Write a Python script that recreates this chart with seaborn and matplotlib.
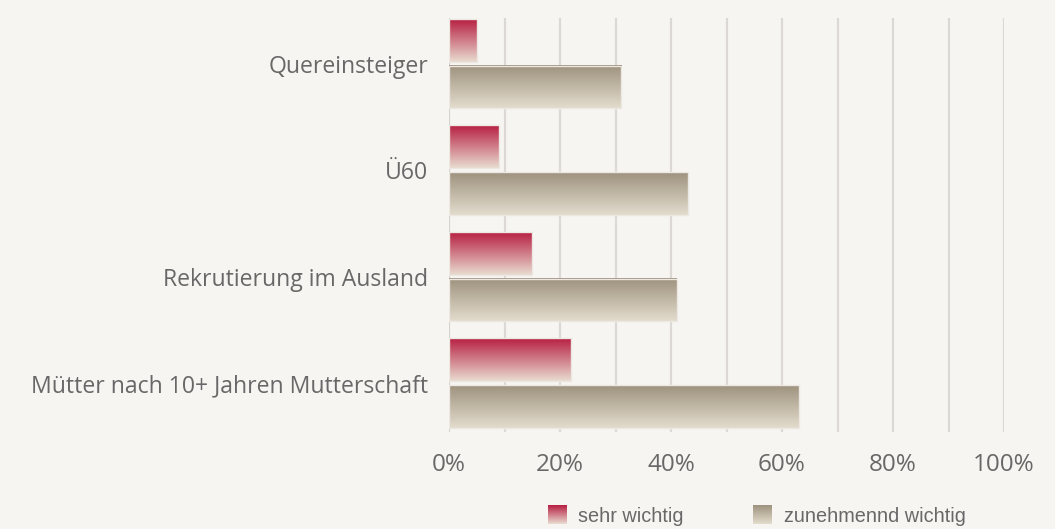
import matplotlib
matplotlib.use("Agg")
import matplotlib.pyplot as plt
import seaborn as sns
import pandas as pd
import numpy as np
from matplotlib.colors import LinearSegmentedColormap

# data (percent)
categories = ["Quereinsteiger", "Ü60", "Rekrutierung im Ausland", "Mütter nach 10+ Jahren Mutterschaft"]
series_names = ["sehr wichtig", "zunehmennd wichtig"]
sehr_wichtig = [5, 9, 15, 22]
zunehmend_wichtig = [31, 43, 41, 63]
x_ticks = [0, 20, 40, 60, 80, 100]
x_tick_labels = ["0%", "20%", "40%", "60%", "80%", "100%"]

df = pd.DataFrame({
    "Kategorie": categories * 2,
    "Gruppe": [series_names[0]] * 4 + [series_names[1]] * 4,
    "Wert": sehr_wichtig + zunehmend_wichtig,
})

bg = "#f7f5f2"
text_col = "#686868"
grads = {
    series_names[0]: ["#b71f42", "#e9dcd0"],
    series_names[1]: ["#9e927e", "#e3dccd"],
}

sns.set_style("white")
plt.rcParams['font.family'] = ['Open Sans', 'DejaVu Sans']

fig = plt.figure(figsize=(10.55, 5.29), dpi=100, facecolor=bg)
ax = fig.add_axes([449 / 1055, 1 - 432 / 529, 555 / 1055, 414 / 529])
ax.set_facecolor(bg)

sns.barplot(data=df, y="Kategorie", x="Wert", hue="Gruppe", orient="h",
            width=0.88, gap=0.09, ax=ax, legend=False,
            palette=[grads[s][0] for s in series_names])

# vertical grid every 10%
for v in range(10, 101, 10):
    ax.axvline(v, color="#dcd9d4", lw=1.6, zorder=0)
ax.axvline(0, color="#d6d3ce", lw=1.6, zorder=0)

# gradient fills for every bar
bars = list(ax.patches)
for i, p in enumerate(bars):
    name = series_names[0] if i < len(categories) else series_names[1]
    cmap = LinearSegmentedColormap.from_list(name, grads[name])
    x0, y0, w, h = p.get_x(), p.get_y(), p.get_width(), p.get_height()
    grad = np.linspace(0, 1, 256).reshape(-1, 1)
    ax.imshow(grad, cmap=cmap, aspect="auto", origin="upper",
              extent=(x0, x0 + w, y0 + h, y0), zorder=2, interpolation="bicubic")
    p.set_facecolor("none")
    p.set_edgecolor("#ece8e1")
    p.set_linewidth(1.0)
    p.set_zorder(3)

ax.set_xlim(0, 100)
ax.set_ylim(3.46, -0.43)
ax.set_xticks(x_ticks)
ax.set_xticklabels(x_tick_labels)
ax.set_xlabel("")
ax.set_ylabel("")
ax.tick_params(axis="x", length=0, pad=15, labelsize=17.5, labelcolor=text_col)
ax.tick_params(axis="y", length=0, pad=15, labelsize=16.6, labelcolor=text_col)
for s in ax.spines.values():
    s.set_visible(False)

# legend below the chart, with gradient swatches
leg_items = [(548, 578, series_names[0]), (753, 784, series_names[1])]
for sx, tx, name in leg_items:
    cmap = LinearSegmentedColormap.from_list(name, grads[name])
    sw = fig.add_axes([sx / 1055, 1 - 524 / 529, 19 / 1055, 19 / 529])
    sw.imshow(np.linspace(0, 1, 64).reshape(-1, 1), cmap=cmap, aspect="auto")
    sw.axis("off")
    fig.text(tx / 1055, 1 - 516 / 529, name, fontsize=14.3, color=text_col,
             va="center", ha="left", family=["Liberation Sans", "DejaVu Sans"])

fig.savefig("out.png", dpi=100, facecolor=bg)
